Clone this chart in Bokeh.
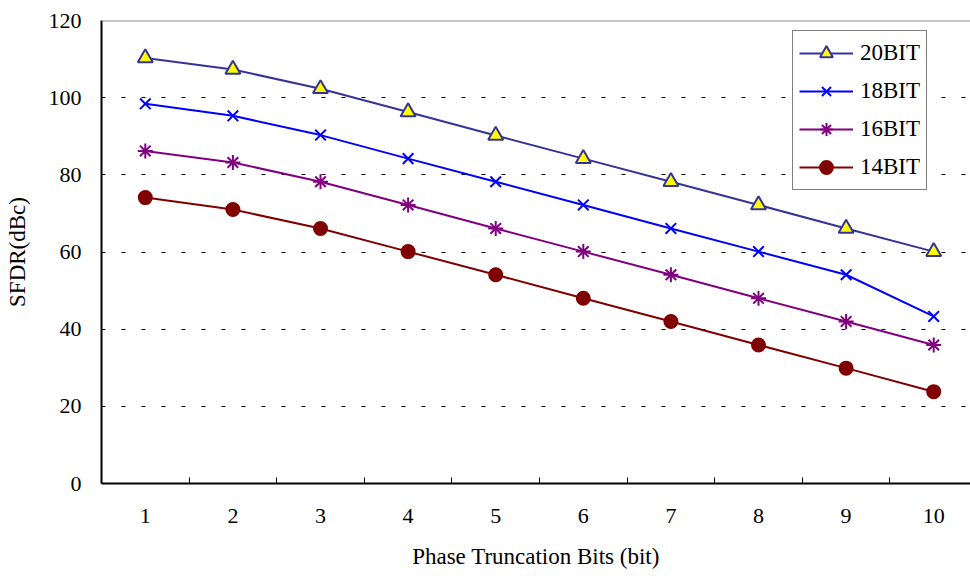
from bokeh.plotting import figure
from bokeh.models import Range1d, FixedTicker, Span, Legend
from bokeh.embed import file_html
from bokeh.resources import INLINE

# Phase truncation bits (x categories) and SFDR in dBc for each word length
bits = [1, 2, 3, 4, 5, 6, 7, 8, 9, 10]
sfdr_20bit = [110.3, 107.3, 102.3, 96.3, 90.2, 84.2, 78.2, 72.2, 66.1, 60.1]
sfdr_18bit = [98.4, 95.3, 90.3, 84.2, 78.2, 72.2, 66.1, 60.1, 54.1, 43.3]
sfdr_16bit = [86.2, 83.2, 78.2, 72.2, 66.1, 60.1, 54.1, 48.0, 42.0, 35.9]
sfdr_14bit = [74.1, 71.0, 66.1, 60.1, 54.1, 48.0, 42.0, 35.9, 29.9, 23.8]
y_ticks = [0, 20, 40, 60, 80, 100, 120]
series_names = ["20BIT", "18BIT", "16BIT", "14BIT"]

FONT = "Liberation Serif"
FS = "22px"

p = figure(width=970, height=576, output_backend="svg", toolbar_location=None,
           x_range=Range1d(0.5, 10.42), y_range=Range1d(0, 120),
           min_border_left=101, min_border_right=0, min_border_top=20,
           min_border_bottom=93)
p.outline_line_color = None
p.background_fill_color = "white"
p.border_fill_color = "white"

# x axis: labels at category centres, small inside ticks between categories
p.xaxis.ticker = FixedTicker(ticks=bits, minor_ticks=[b + 0.5 for b in bits[:-1]])
p.xaxis.major_tick_in = 0
p.xaxis.major_tick_out = 0
p.xaxis.minor_tick_in = 6
p.xaxis.minor_tick_out = 0
p.xaxis.minor_tick_line_color = "black"
p.xaxis.minor_tick_line_width = 1
p.xaxis.axis_line_color = "black"
p.xaxis.axis_line_width = 2
p.xaxis.major_label_standoff = 25
p.xaxis.axis_label = "Phase Truncation Bits (bit)"
p.xaxis.axis_label_standoff = 18

p.yaxis.ticker = FixedTicker(ticks=y_ticks)
p.yaxis.major_tick_in = 0
p.yaxis.major_tick_out = 0
p.yaxis.minor_tick_line_color = None
p.yaxis.axis_line_color = "black"
p.yaxis.axis_line_width = 2
p.yaxis.major_label_standoff = 20
p.yaxis.axis_label = "SFDR(dBc)"
p.yaxis.axis_label_standoff = 16

for ax in (p.xaxis, p.yaxis):
    ax.major_label_text_font = FONT
    ax.major_label_text_font_size = FS
    ax.major_label_text_color = "black"
    ax.axis_label_text_font = FONT
    ax.axis_label_text_font_size = "23px"
    ax.axis_label_text_font_style = "normal"
    ax.axis_label_text_color = "black"

p.xgrid.grid_line_color = None
p.ygrid.ticker = FixedTicker(ticks=y_ticks[1:-1])
p.ygrid.grid_line_color = "black"
p.ygrid.grid_line_width = 1
p.ygrid.grid_line_dash = "4 16"

# grey frame line along the top of the plot area
p.add_layout(Span(location=y_ticks[-1], dimension="width",
                  line_color="#8c8c8c", line_width=2))

styles = [
    (sfdr_20bit, "#333399", "triangle", "#ffff00", 15),
    (sfdr_18bit, "#0000ff", "x", "#0000ff", 15),
    (sfdr_16bit, "#800080", "asterisk", "#800080", 15),
    (sfdr_14bit, "#800000", "circle", "#800000", 13),
]

items = []
for name, (vals, color, marker, fill, size) in zip(series_names, styles):
    r_line = p.line(bits, vals, line_color=color, line_width=2)
    r_pts = p.scatter(bits, vals, marker=marker, size=size, line_color=color,
                      fill_color=fill, line_width=2)
    items.append((name, [r_line, r_pts]))

legend = Legend(items=items, location=(691, 293))
legend.label_text_font = FONT
legend.label_text_font_size = "23px"
legend.label_text_color = "black"
legend.glyph_width = 54
legend.glyph_height = 32
legend.label_standoff = 7
legend.spacing = 6
legend.padding = 6
legend.margin = 0
legend.border_line_color = "black"
legend.border_line_width = 1
legend.background_fill_color = "white"
legend.background_fill_alpha = 1
p.add_layout(legend)

open("out.html", "w").write(file_html(p, INLINE))
